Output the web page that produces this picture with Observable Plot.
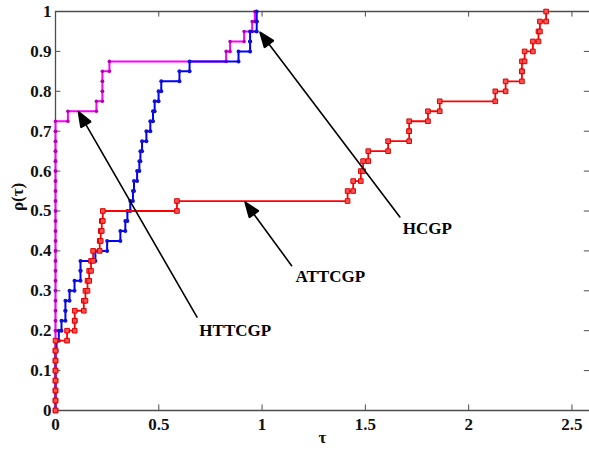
<!DOCTYPE html>
<html>
<head>
<meta charset="utf-8">
<script src="https://cdn.jsdelivr.net/npm/d3@7"></script>
<script src="https://cdn.jsdelivr.net/npm/@observablehq/plot@0.6"></script>
<style>
  html, body { margin: 0; padding: 0; background: #fff; }
  #chart svg, #chart svg text { font-family: "Liberation Serif", "Times New Roman", serif !important; }
</style>
</head>
<body>
<div id="chart"></div>
<script>
// Performance-profile data: sorted tau values of the 40 test problems per solver
const solvers = ["HTTCGP", "HCGP", "ATTCGP"];
const zeros = n => Array(n).fill(0);
const tauHTTCGP = [...zeros(29), 0.06, 0.198, 0.227, 0.227, 0.227, 0.261, 0.826, 0.845, 0.913, 0.952, 0.965];
const tauHCGP = [...zeros(6), 0.005, 0.016, 0.029, 0.048, 0.048, 0.068, 0.092, 0.121, 0.121, 0.193, 0.25,
  0.314, 0.338, 0.348, 0.362, 0.375, 0.38, 0.395, 0.406, 0.411, 0.419, 0.44, 0.459, 0.472, 0.48, 0.499,
  0.512, 0.6, 0.649, 0.886, 0.942, 0.942, 0.974, 0.974];
const tauATTCGP = [...zeros(7), 0.056, 0.093, 0.093, 0.137, 0.145, 0.155, 0.163, 0.172, 0.182, 0.214, 0.219,
  0.224, 0.229, 0.588, 1.414, 1.441, 1.478, 1.489, 1.514, 1.61, 1.712, 1.712, 1.803, 1.86, 2.129, 2.179,
  2.258, 2.258, 2.271, 2.311, 2.338, 2.345, 2.375];
const xTicks = [0, 0.5, 1, 1.5, 2, 2.5];
const xTickLabels = ["0", "0.5", "1", "1.5", "2", "2.5"];
const yTicks = [0, 0.1, 0.2, 0.3, 0.4, 0.5, 0.6, 0.7, 0.8, 0.9, 1];
const yTickLabels = ["0", "0.1", "0.2", "0.3", "0.4", "0.5", "0.6", "0.7", "0.8", "0.9", "1"];
// annotations: label, label position, arrow tail, arrow tip (data coords)
const annLabels = ["HTTCGP", "ATTCGP", "HCGP"];
const annLabelX = [0.87, 1.33, 1.80];
const annLabelY = [0.20, 0.335, 0.455];
const annTailX = [0.685, 1.143, 1.667];
const annTailY = [0.234, 0.363, 0.485];
const annTipX = [0.111, 0.918, 0.99];
const annTipY = [0.749, 0.522, 0.948];

const series = {HTTCGP: tauHTTCGP, HCGP: tauHCGP, ATTCGP: tauATTCGP};
const colors = {HTTCGP: "#ff00ff", HCGP: "#0000ff", ATTCGP: "#ff0000"};

function stepVertices(name) {
  const t = series[name], n = t.length, v = [{solver: name, x: 0, y: 0}];
  t.forEach((tau, i) => {
    v.push({solver: name, x: tau, y: i / n});
    v.push({solver: name, x: tau, y: (i + 1) / n});
  });
  return v;
}
const verts = Object.fromEntries(solvers.map(s => [s, stepVertices(s)]));
const ann = annLabels.map((l, i) => ({label: l, lx: annLabelX[i], ly: annLabelY[i],
  x1: annTailX[i], y1: annTailY[i], x2: annTipX[i], y2: annTipY[i]}));

const axisColor = "#4d4d4d";
const font = "Liberation Serif";
const txt = {fontFamily: font, fill: "#111"};

const chart = Plot.plot({
  width: 589,
  height: 453,
  marginLeft: 55,
  marginRight: 0,
  marginTop: 11,
  marginBottom: 43,
  style: {fontFamily: font, background: "#fff"},
  x: {domain: [0, 2.585], axis: null},
  y: {domain: [0, 1], axis: null},
  marks: [
    // frame
    Plot.ruleY([0, 1], {stroke: axisColor, strokeWidth: 1.3}),
    Plot.ruleX([0], {stroke: axisColor, strokeWidth: 1.3}),
    // inward ticks
    Plot.ruleX(xTicks, {x: d => d, y1: 0, y2: 0.014, stroke: axisColor}),
    Plot.ruleX(xTicks, {x: d => d, y1: 0.986, y2: 1, stroke: axisColor}),
    Plot.ruleY(yTicks, {y: d => d, x1: 0, x2: 0.026, stroke: axisColor}),
    Plot.ruleY(yTicks, {y: d => d, x1: 2.56, x2: 2.585, stroke: axisColor}),
    // tick labels
    Plot.text(xTicks, {x: d => d, y: 0, text: (d, i) => xTickLabels[i], dy: 14, fontSize: 17, fontWeight: "bold", ...txt}),
    Plot.text(yTicks, {x: 0, y: d => d, text: (d, i) => yTickLabels[i], dx: -4, textAnchor: "end", fontSize: 17, fontWeight: "bold", ...txt}),
    // axis titles
    Plot.text(["τ"], {frameAnchor: "bottom", dy: 32, fontSize: 17, fontWeight: "bold", ...txt}),
    Plot.text(["ρ(τ)"], {frameAnchor: "left", dx: -38, rotate: -90, fontSize: 17, fontWeight: "bold", ...txt}),
    // series: HTTCGP (magenta), HCGP (blue), ATTCGP (red)
    Plot.line(verts.HTTCGP, {x: "x", y: "y", stroke: colors.HTTCGP, strokeWidth: 2}),
    Plot.dot(verts.HTTCGP, {x: "x", y: "y", r: 1.8, fill: "#b000b0", stroke: "none"}),
    Plot.line(verts.HCGP, {x: "x", y: "y", stroke: colors.HCGP, strokeWidth: 2}),
    Plot.dot(verts.HCGP, {x: "x", y: "y", r: 2, fill: "#1010d0", stroke: "none"}),
    Plot.line(verts.ATTCGP, {x: "x", y: "y", stroke: colors.ATTCGP, strokeWidth: 1.8}),
    Plot.dot(verts.ATTCGP, {x: "x", y: "y", symbol: "square", r: 2.6, fill: "#ff5050", stroke: "#dd0000", strokeWidth: 1}),
    // annotations
    Plot.arrow(ann, {x1: "x1", y1: "y1", x2: "x2", y2: "y2", stroke: "#000", strokeWidth: 1.6, headLength: 15, headAngle: 42}),
    Plot.text(ann, {x: "lx", y: "ly", text: "label", fontSize: 17, fontWeight: "bold", ...txt, fill: "#000"})
  ]
});
// fill the arrowheads (close the head sub-path)
chart.querySelectorAll('g[aria-label="arrow"] path').forEach(p => {
  p.setAttribute("d", p.getAttribute("d") + "Z");
  p.setAttribute("fill", "#000");
  p.setAttribute("stroke-linejoin", "miter");
});
document.getElementById("chart").appendChild(chart);
</script>
</body>
</html>
